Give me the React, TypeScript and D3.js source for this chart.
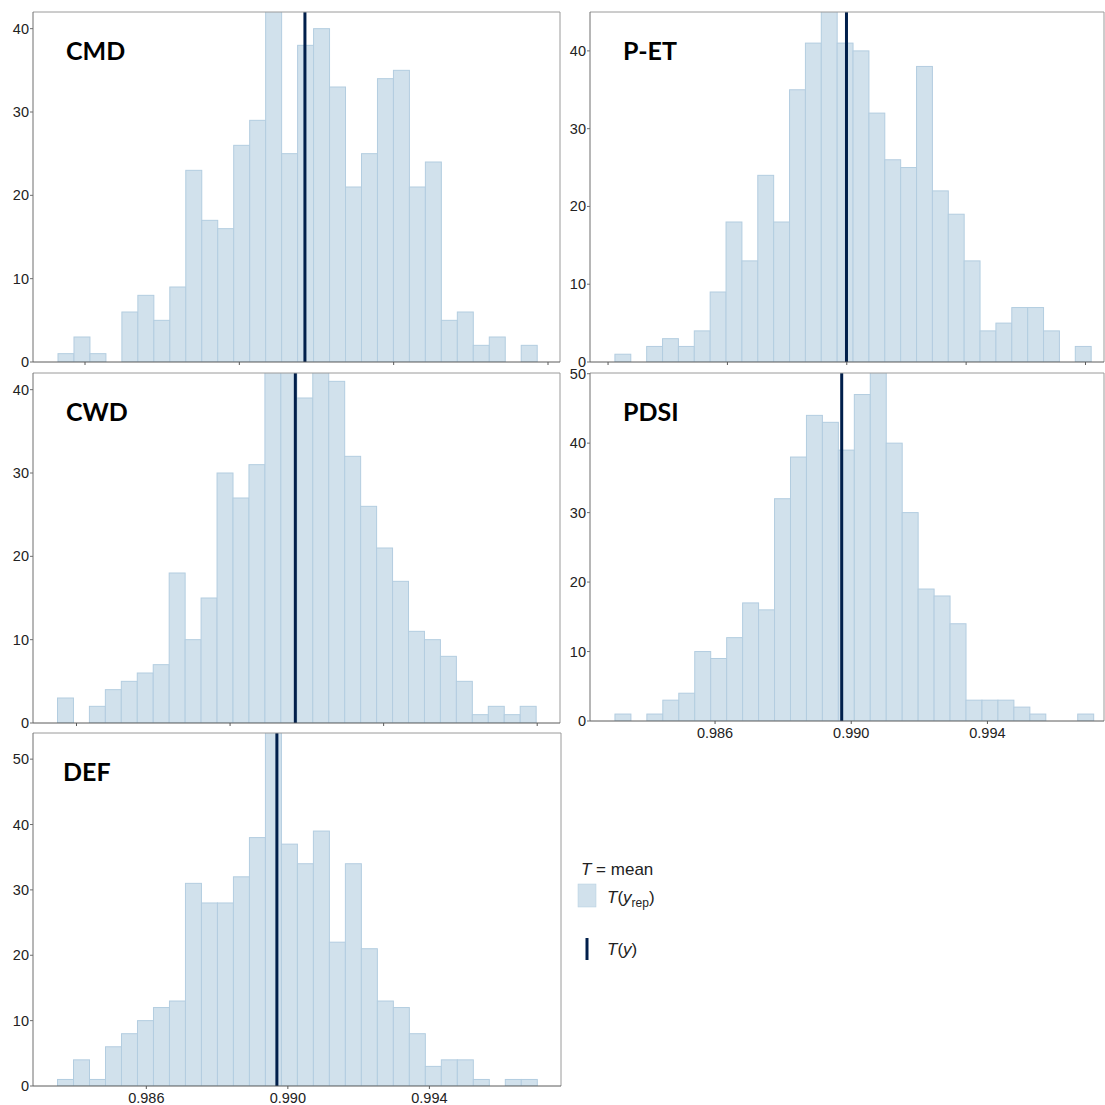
import React from "react";
import { scaleLinear } from "d3";

// panel names
const panelNames = ["CMD", "P-ET", "CWD", "PDSI", "DEF"];

// histogram counts (30 bins each)
const cmdCounts = [1, 3, 1, 0, 6, 8, 5, 9, 23, 17, 16, 26, 29, 44, 25, 38, 40, 33, 21, 25, 34, 35, 21, 24, 5, 6, 2, 3, 0, 2];
const petCounts = [1, 0, 2, 3, 2, 4, 9, 18, 13, 24, 18, 35, 41, 47, 41, 40, 32, 26, 25, 38, 22, 19, 13, 4, 5, 7, 7, 4, 0, 2];
const cwdCounts = [3, 0, 2, 4, 5, 6, 7, 18, 10, 15, 30, 27, 31, 45, 46, 39, 43, 41, 32, 26, 21, 17, 11, 10, 8, 5, 1, 2, 1, 2];
const pdsiCounts = [1, 0, 1, 3, 4, 10, 9, 12, 17, 16, 32, 38, 44, 43, 39, 47, 52, 40, 30, 19, 18, 14, 3, 3, 3, 2, 1, 0, 0, 1];
const defCounts = [1, 4, 1, 6, 8, 10, 12, 13, 31, 28, 28, 32, 38, 57, 37, 34, 39, 22, 34, 21, 13, 12, 8, 3, 4, 4, 1, 0, 1, 1];

// first bin edge and bin width of each histogram
const binStarts = [0.9833, 0.98223, 0.983505, 0.98306, 0.98349];
const binWidths = [0.000414, 0.000532, 0.0004156, 0.0004687, 0.000452];

// observed statistic T(y)
const tyValues = [0.9897, 0.98999, 0.9897, 0.98972, 0.98969];

// x domains and ticks
const xDomains = [
  [0.982652, 0.996311],
  [0.981395, 0.99862],
  [0.982867, 0.996594],
  [0.982327, 0.997424],
  [0.982797, 0.99772],
];
const xTicks = [
  [0.984, 0.988, 0.992, 0.996],
  [0.982, 0.986, 0.99, 0.994, 0.998],
  [0.984, 0.988, 0.992, 0.996],
  [0.986, 0.99, 0.994],
  [0.986, 0.99, 0.994],
];
const showXLabels = [false, false, false, true, true];

// y axis tops and ticks
const yMax = [42.0, 45.0, 42.0, 50.1, 54.0];
const yTicks = [
  [0, 10, 20, 30, 40],
  [0, 10, 20, 30, 40],
  [0, 10, 20, 30, 40],
  [0, 10, 20, 30, 40, 50],
  [0, 10, 20, 30, 40, 50],
];

const allCounts = [cmdCounts, petCounts, cwdCounts, pdsiCounts, defCounts];

// pixel boxes of the panels
const boxes = [
  { left: 33, top: 12, right: 560, bottom: 362 },
  { left: 590, top: 12, right: 1104, bottom: 362 },
  { left: 33, top: 373, right: 560, bottom: 723 },
  { left: 590, top: 373, right: 1104, bottom: 721 },
  { left: 33, top: 733, right: 561, bottom: 1086 },
];

const FILL = "#d1e1ec";
const EDGE = "#b3cde0";
const DARK = "#011f4b";
const FONT = "'Liberation Sans', Arial, sans-serif";

function Panel({ i }) {
  const b = boxes[i];
  const x = scaleLinear().domain(xDomains[i]).range([b.left, b.right]);
  const y = scaleLinear().domain([0, yMax[i]]).range([b.bottom, b.top]);
  const counts = allCounts[i];
  const clipId = `clip-${i}`;

  return (
    <g>
      <defs>
        <clipPath id={clipId}>
          <rect x={b.left} y={b.top} width={b.right - b.left} height={b.bottom - b.top} />
        </clipPath>
      </defs>

      {/* bars */}
      <g clipPath={`url(#${clipId})`}>
        {counts.map((c, k) => {
          if (c === 0) return null;
          const x0 = x(binStarts[i] + k * binWidths[i]);
          const x1 = x(binStarts[i] + (k + 1) * binWidths[i]);
          return (
            <rect
              key={k}
              x={x0}
              y={y(c)}
              width={x1 - x0}
              height={y(0) - y(c)}
              fill={FILL}
              stroke={EDGE}
              strokeWidth={1}
            />
          );
        })}
        <line
          x1={x(tyValues[i])}
          x2={x(tyValues[i])}
          y1={b.top}
          y2={b.bottom}
          stroke={DARK}
          strokeWidth={3}
        />
      </g>

      {/* frame */}
      <line x1={b.left} x2={b.right} y1={b.top} y2={b.top} stroke="#9a9a9a" />
      <line x1={b.right} x2={b.right} y1={b.top} y2={b.bottom} stroke="#9a9a9a" />
      <line x1={b.left} x2={b.left} y1={b.top} y2={b.bottom} stroke="#6e6e6e" />
      <line x1={b.left} x2={b.right} y1={b.bottom} y2={b.bottom} stroke="#5a5a5a" />

      {/* y ticks */}
      {yTicks[i].map((t) => (
        <g key={t}>
          <line x1={b.left - 3} x2={b.left} y1={y(t)} y2={y(t)} stroke="#6e6e6e" />
          <text
            x={b.left - 4}
            y={y(t)}
            textAnchor="end"
            dominantBaseline="central"
            fontSize={14.5}
            fontFamily={FONT}
            fill="#222"
          >
            {t}
          </text>
        </g>
      ))}

      {/* x ticks */}
      {xTicks[i].map((t) => (
        <g key={t}>
          <line x1={x(t)} x2={x(t)} y1={b.bottom} y2={b.bottom + 3} stroke="#5a5a5a" />
          {showXLabels[i] && (
            <text
              x={x(t)}
              y={b.bottom + 17}
              textAnchor="middle"
              fontSize={14.5}
              fontFamily={FONT}
              fill="#222"
            >
              {t.toFixed(3)}
            </text>
          )}
        </g>
      ))}

      {/* panel label */}
      <text
        x={b.left + (i === 4 ? 30 : 33)}
        y={b.top + 48}
        fontSize={25}
        fontWeight="bold"
        fontFamily="Lato, 'Open Sans', sans-serif"
        fill="#000"
      >
        {panelNames[i]}
      </text>
    </g>
  );
}

function Legend() {
  return (
    <g fontFamily={FONT} fill="#222" fontSize={17}>
      <text x={581} y={875}>
        <tspan fontStyle="italic">T</tspan>
        <tspan> = mean</tspan>
      </text>
      <rect x={578} y={884} width={18} height={23} fill={FILL} stroke={EDGE} strokeWidth={0.5} />
      <text x={607} y={903}>
        <tspan fontStyle="italic">T</tspan>
        <tspan>(</tspan>
        <tspan fontStyle="italic">y</tspan>
        <tspan fontSize={12} dy={4}>rep</tspan>
        <tspan dy={-4}>)</tspan>
      </text>
      <line x1={587} x2={587} y1={938} y2={960} stroke={DARK} strokeWidth={3} />
      <text x={607} y={955}>
        <tspan fontStyle="italic">T</tspan>
        <tspan>(</tspan>
        <tspan fontStyle="italic">y</tspan>
        <tspan>)</tspan>
      </text>
    </g>
  );
}

export default function App() {
  return (
    <svg
      width={1105}
      height={1105}
      style={{ position: "absolute", left: 0, top: 0, background: "#fff" }}
    >
      {panelNames.map((_, i) => (
        <Panel key={i} i={i} />
      ))}
      <Legend />
    </svg>
  );
}
